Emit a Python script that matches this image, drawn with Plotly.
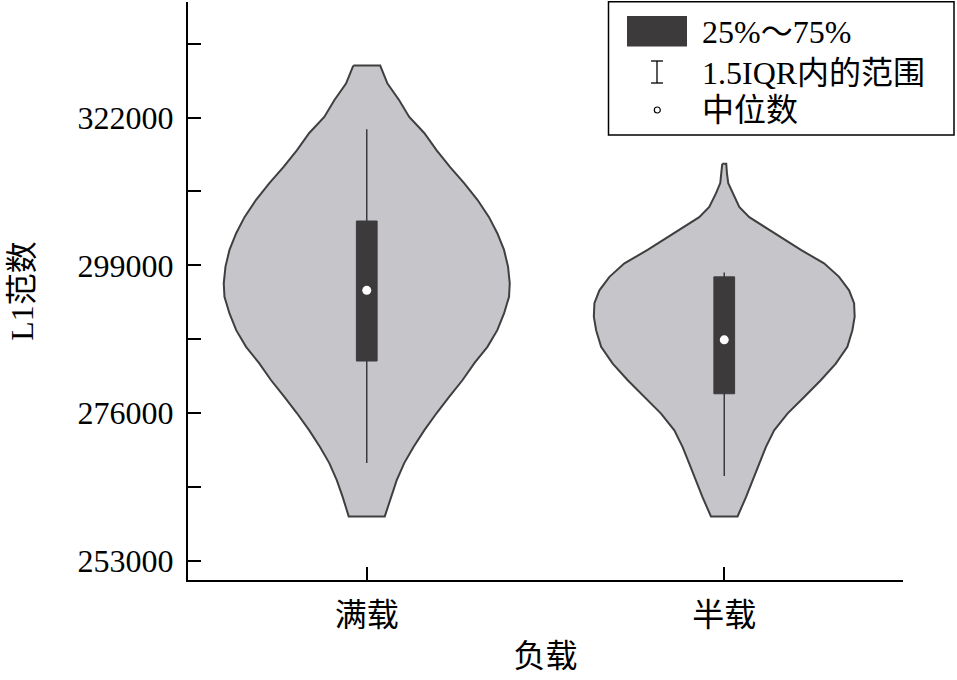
import plotly.graph_objects as go

# ---------------- data ----------------
categories = ["满载", "半载"]

# violin outlines: L1-norm value (top -> bottom) and relative density (half width, max = 1)
full_values = [330100, 327300, 324700, 322100, 319600, 316900, 314300, 311800, 309200,
               306500, 304000, 301400, 298800, 296200, 294100, 291500, 288900, 286300,
               283800, 281100, 278500, 276000, 273300, 270700, 268200, 265500, 262900, 259900]
full_density = [0.094, 0.145, 0.227, 0.297, 0.402, 0.489, 0.583, 0.681, 0.774, 0.855,
                0.913, 0.960, 0.988, 1.000, 0.995, 0.960, 0.913, 0.844, 0.754, 0.669,
                0.576, 0.489, 0.402, 0.327, 0.262, 0.209, 0.168, 0.126]

half_values = [314800, 313300, 311800, 310200, 308100, 306500, 305000, 303400, 301400,
               299300, 297200, 295100, 293100, 291000, 288900, 286300, 283700, 281100,
               278500, 275900, 273300, 270700, 268100, 265500, 262900, 259900]
half_density = [0.014, 0.019, 0.028, 0.058, 0.105, 0.175, 0.279, 0.396, 0.536, 0.698,
                0.803, 0.873, 0.908, 0.912, 0.896, 0.861, 0.780, 0.675, 0.559, 0.442,
                0.349, 0.291, 0.244, 0.198, 0.152, 0.093]

# box statistics per category
q1_vals = [284100, 279000]
median_vals = [295100, 287400]
q3_vals = [305900, 297200]
lower_whisker = [268200, 266200]
upper_whisker = [320200, 297900]

y_major_ticks = [253000, 276000, 299000, 322000]
y_minor_ticks = [264500, 287500, 310500, 333500]

legend_labels = ["25%～75%", "1.5IQR内的范围", "中位数"]

# ---------------- style ----------------
FONT = "Liberation Serif, Times New Roman, Noto Sans CJK SC, serif"
VIOLIN_FILL = "#c6c5c9"
VIOLIN_LINE = "#3f3f3f"
BOX_COLOR = "#3d3a3c"
HALF_WIDTH = 0.40   # max half width of violin in category units
BOX_WIDTH = 0.058

W_FIG, H_FIG = 957, 680
ML, MR, MT, MB = 188, 54, 2, 100
PW = W_FIG - ML - MR
PH = H_FIG - MT - MB


def px(xp):
    return (xp - ML) / PW


def py(yp):
    return (H_FIG - MB - yp) / PH


fig = go.Figure()

# violin bodies
outlines = [(full_values, full_density), (half_values, half_density)]
for i, (vals, dens) in enumerate(outlines):
    xs = [i - d * HALF_WIDTH for d in dens] + [i + d * HALF_WIDTH for d in reversed(dens)]
    ys = list(vals) + list(reversed(vals))
    xs.append(xs[0])
    ys.append(ys[0])
    fig.add_trace(go.Scatter(
        x=xs, y=ys, mode="lines", fill="toself", fillcolor=VIOLIN_FILL,
        line=dict(color=VIOLIN_LINE, width=2),
        showlegend=False, hoverinfo="skip"))

# whiskers (1.5 IQR range)
wx, wy = [], []
for i in range(len(categories)):
    wx += [i, i, None]
    wy += [lower_whisker[i], upper_whisker[i], None]
fig.add_trace(go.Scatter(x=wx, y=wy, mode="lines",
                         line=dict(color=BOX_COLOR, width=1.5),
                         showlegend=False, hoverinfo="skip"))

# interquartile boxes
for i in range(len(categories)):
    bx = [i - BOX_WIDTH / 2, i + BOX_WIDTH / 2, i + BOX_WIDTH / 2, i - BOX_WIDTH / 2, i - BOX_WIDTH / 2]
    by = [q1_vals[i], q1_vals[i], q3_vals[i], q3_vals[i], q1_vals[i]]
    fig.add_trace(go.Scatter(x=bx, y=by, mode="lines", fill="toself",
                             fillcolor=BOX_COLOR, line=dict(color=BOX_COLOR, width=1),
                             showlegend=False, hoverinfo="skip"))

# medians
fig.add_trace(go.Scatter(
    x=list(range(len(categories))), y=median_vals, mode="markers",
    marker=dict(color="white", size=9, line=dict(width=0)),
    showlegend=False, hoverinfo="skip"))

# ---------------- legend (drawn manually) ----------------
shapes = []
annotations = []
shapes.append(dict(type="rect", xref="paper", yref="paper",
                   x0=px(608.5), x1=px(954), y0=py(135), y1=py(1.7),
                   line=dict(color="black", width=1.5), fillcolor="white", layer="above"))
shapes.append(dict(type="rect", xref="paper", yref="paper",
                   x0=px(627), x1=px(687), y0=py(46.5), y1=py(16),
                   line=dict(width=0), fillcolor=BOX_COLOR, layer="above"))
shapes.append(dict(type="line", xref="paper", yref="paper",
                   x0=px(657), x1=px(657), y0=py(83), y1=py(61),
                   line=dict(color="black", width=1.3), layer="above"))
for yy in (61, 83):
    shapes.append(dict(type="line", xref="paper", yref="paper",
                       x0=px(651), x1=px(663), y0=py(yy), y1=py(yy),
                       line=dict(color="black", width=1.3), layer="above"))
shapes.append(dict(type="circle", xref="paper", yref="paper",
                   x0=px(654.3), x1=px(660.3), y0=py(113), y1=py(107),
                   line=dict(color="black", width=1.2), fillcolor="white", layer="above"))

for lab, yy in zip(legend_labels, [31.7, 72.5, 110]):
    annotations.append(dict(text=lab, xref="paper", yref="paper", x=px(700), y=py(yy),
                            xanchor="left", yanchor="middle", showarrow=False,
                            font=dict(family=FONT, size=32, color="black")))

fig.update_layout(
    width=W_FIG, height=H_FIG,
    margin=dict(l=ML, r=MR, t=MT, b=MB),
    paper_bgcolor="white", plot_bgcolor="white",
    font=dict(family=FONT, size=32, color="black"),
    shapes=shapes, annotations=annotations,
    xaxis=dict(
        range=[-0.5, 1.5], tickmode="array",
        tickvals=list(range(len(categories))) + [1.5],
        ticktext=categories + [""],
        ticks="inside", ticklen=13, tickwidth=1.5, tickcolor="black",
        showline=True, linecolor="black", linewidth=2,
        showgrid=False, zeroline=False,
        tickfont=dict(family=FONT, size=32),
        ticklabelstandoff=6,
        title=dict(text="负载", font=dict(family=FONT, size=32), standoff=12)),
    yaxis=dict(
        range=[250000, 340000], tickmode="array", tickvals=y_major_ticks,
        ticktext=[str(v) for v in y_major_ticks],
        ticks="inside", ticklen=13, tickwidth=1.5, tickcolor="black",
        minor=dict(tickmode="array", tickvals=y_minor_ticks, ticks="inside",
                   ticklen=13, tickwidth=1.5, tickcolor="black", showgrid=False),
        showline=True, linecolor="black", linewidth=2,
        showgrid=False, zeroline=False,
        tickfont=dict(family=FONT, size=32),
        ticklabelstandoff=6,
        title=dict(text="L1范数", font=dict(family=FONT, size=32), standoff=34)),
)

fig.write_html("out.html", config={"displayModeBar": False},
               post_script="document.body.style.margin='0px';")
